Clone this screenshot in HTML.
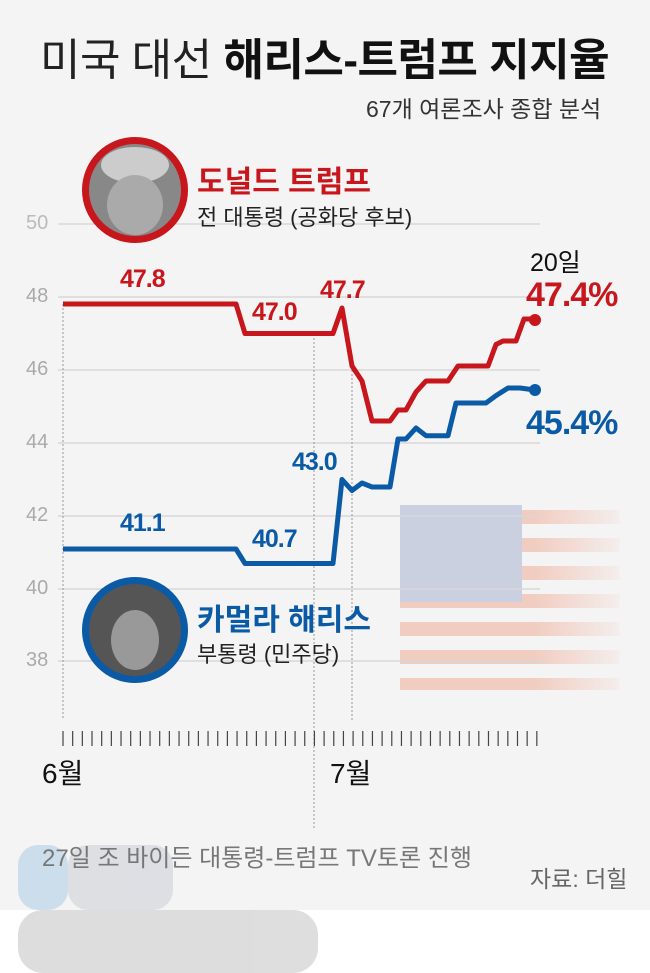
<!DOCTYPE html><html><head><meta charset="utf-8"><style>
body{margin:0;width:650px;height:973px;background:#fff;font-family:"Liberation Sans","Noto Sans CJK KR",sans-serif;overflow:hidden}
.bg{position:absolute;left:0;top:0;width:650px;height:910px;background:#f4f4f4}
.t{position:absolute;white-space:nowrap}
</style></head><body>
<div class="bg"></div>
<svg width="650" height="973" style="position:absolute;left:0;top:0">
<defs><linearGradient id="fade" x1="0" x2="1"><stop offset="0" stop-color="#f4f4f4" stop-opacity="0"/><stop offset="0.6" stop-color="#f4f4f4" stop-opacity="0"/><stop offset="1" stop-color="#f4f4f4" stop-opacity="0.9"/></linearGradient></defs>
<g opacity="0.5">
<g fill="#f0a890"><rect x="400" y="510" width="220" height="14"/><rect x="400" y="538" width="220" height="14"/><rect x="400" y="566" width="220" height="14"/><rect x="400" y="594" width="220" height="14"/><rect x="400" y="622" width="220" height="14"/><rect x="400" y="650" width="220" height="14"/><rect x="400" y="678" width="220" height="12"/></g>
<rect x="400" y="505" width="122" height="97" fill="#a4aed0"/>
</g>
<rect x="400" y="500" width="225" height="200" fill="url(#fade)"/>
<g stroke="#d8d8d8" stroke-width="1.5">
<line x1="58" y1="224" x2="540" y2="224"/><line x1="58" y1="297" x2="540" y2="297"/><line x1="58" y1="370" x2="540" y2="370"/><line x1="58" y1="443" x2="540" y2="443"/><line x1="58" y1="516" x2="540" y2="516"/><line x1="58" y1="589" x2="540" y2="589"/><line x1="58" y1="661" x2="540" y2="661"/>
</g>
<g stroke="#999" stroke-width="1" stroke-dasharray="2,2">
<line x1="63" y1="304" x2="63" y2="720"/><line x1="314" y1="334" x2="314" y2="830"/><line x1="352" y1="366" x2="352" y2="720"/>
</g>
<g stroke="#444" stroke-width="1.2" id="tk"></g>
<polyline fill="none" stroke="#c8161d" stroke-width="5" stroke-linejoin="round" points="63,304 236,304 245,333.5 333,333.5 342,308 352,366 362,381 372,421 390,421 398,410 406,410 416,392 426,381 448,381 458,366 488,366 496,344.5 503,341 516,341 524,319 535,319"/>
<circle cx="535" cy="320" r="6" fill="#c8161d"/>
<polyline fill="none" stroke="#0b5aa6" stroke-width="5" stroke-linejoin="round" points="63,549 236,549 245,563.5 333,563.5 342,479.5 352,490.5 362,483 372,487 390,487 398,439 406,439 416,428 426,435.7 448,435.7 456,403 486,403 496,395.6 508,388 520,388 535,390"/>
<circle cx="535" cy="390" r="6" fill="#0b5aa6"/>
<circle cx="135" cy="190" r="53" fill="#c8161d"/><circle cx="135" cy="190" r="46" fill="#888"/><ellipse cx="135" cy="165" rx="34" ry="18" fill="#ccc"/><ellipse cx="135" cy="205" rx="28" ry="30" fill="#aaa"/>
<circle cx="135" cy="630" r="53" fill="#0b5aa6"/><circle cx="135" cy="630" r="46" fill="#555"/><ellipse cx="135" cy="640" rx="24" ry="30" fill="#999"/>
<g opacity="0.9">
<rect x="18" y="845" width="50" height="65" rx="20" fill="#c8dbeb"/><rect x="68" y="845" width="105" height="65" rx="20" fill="#dcdde2"/>
<rect x="18" y="910" width="300" height="63" rx="25" fill="#dadada"/>
</g>
</svg>
<script>var g=document.getElementById('tk');for(var i=0;i<50;i++){var x=63+i*9.67;var l=document.createElementNS('http://www.w3.org/2000/svg','line');l.setAttribute('x1',x);l.setAttribute('x2',x);l.setAttribute('y1',731);l.setAttribute('y2',746);g.appendChild(l);}</script>
<div class="t" style="left:40px;top:24px;font-size:44px;color:#222;letter-spacing:-0.5px">미국 대선 <b style="color:#111">해리스-트럼프 지지율</b></div>
<div class="t" style="left:366px;top:90px;font-size:23px;color:#333">67개 여론조사 종합 분석</div>
<div class="t" style="left:197px;top:157px;font-size:30px;font-weight:bold;color:#c8161d">도널드 트럼프</div>
<div class="t" style="left:197px;top:200px;font-size:22px;color:#222">전 대통령 (공화당 후보)</div>
<div class="t" style="left:197px;top:595px;font-size:30px;font-weight:bold;color:#0b5aa6">카멀라 해리스</div>
<div class="t" style="left:197px;top:637px;font-size:22px;color:#222">부통령 (민주당)</div>
<div class="t" style="left:26px;top:212px;font-size:20px;color:#bbb">50</div>
<div class="t" style="left:26px;top:285px;font-size:20px;color:#aaa">48</div>
<div class="t" style="left:26px;top:358px;font-size:20px;color:#aaa">46</div>
<div class="t" style="left:26px;top:431px;font-size:20px;color:#aaa">44</div>
<div class="t" style="left:26px;top:504px;font-size:20px;color:#aaa">42</div>
<div class="t" style="left:26px;top:577px;font-size:20px;color:#aaa">40</div>
<div class="t" style="left:26px;top:649px;font-size:20px;color:#aaa">38</div>
<div class="t" style="left:120px;top:265px;font-size:25px;font-weight:bold;color:#c8161d;letter-spacing:-1px">47.8</div>
<div class="t" style="left:252px;top:298px;font-size:25px;font-weight:bold;color:#c8161d;letter-spacing:-1px">47.0</div>
<div class="t" style="left:320px;top:276px;font-size:25px;font-weight:bold;color:#c8161d;letter-spacing:-1px">47.7</div>
<div class="t" style="left:120px;top:509px;font-size:25px;font-weight:bold;color:#0b5aa6;letter-spacing:-1px">41.1</div>
<div class="t" style="left:252px;top:525px;font-size:25px;font-weight:bold;color:#0b5aa6;letter-spacing:-1px">40.7</div>
<div class="t" style="left:292px;top:448px;font-size:25px;font-weight:bold;color:#0b5aa6;letter-spacing:-1px">43.0</div>
<div class="t" style="left:530px;top:243px;font-size:25px;color:#111">20일</div>
<div class="t" style="left:526px;top:276px;font-size:34px;font-weight:bold;color:#c8161d;letter-spacing:-1px">47.4%</div>
<div class="t" style="left:526px;top:404px;font-size:34px;font-weight:bold;color:#0b5aa6;letter-spacing:-1px">45.4%</div>
<div class="t" style="left:42px;top:752px;font-size:28px;color:#111">6월</div>
<div class="t" style="left:330px;top:752px;font-size:28px;color:#111">7월</div>
<div class="t" style="left:42px;top:838px;font-size:24px;color:#777">27일 조 바이든 대통령-트럼프 TV토론 진행</div>
<div class="t" style="left:530px;top:860px;font-size:23px;color:#666">자료: 더힐</div>
</body></html>
